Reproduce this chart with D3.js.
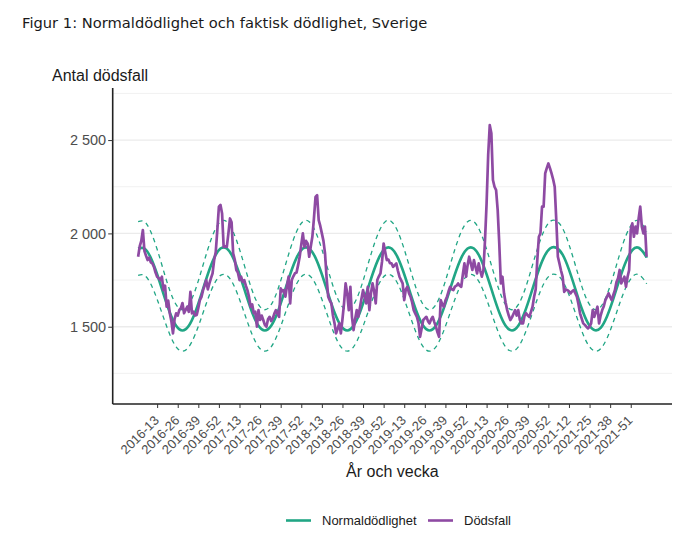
<!DOCTYPE html>
<html>
<head>
<meta charset="utf-8">
<script src="https://cdn.jsdelivr.net/npm/d3@7"></script>
<style>
  body { margin: 0; background: #fff; }
  text { font-family: "Liberation Sans", Arial, sans-serif; }
</style>
</head>
<body>
<div class="chart"></div>
<script>
const width = 700;
const height = 535;

// år och antal veckor i serien
const years = [2016, 2017, 2018, 2019, 2020, 2021, 2022];
const weeksInYear = [52, 52, 52, 52, 53, 52, 9];

const xTicks = ["2016-13", "2016-26", "2016-39", "2016-52", "2017-13", "2017-26", "2017-39", "2017-52",
    "2018-13", "2018-26", "2018-39", "2018-52", "2019-13", "2019-26", "2019-39", "2019-52",
    "2020-13", "2020-26", "2020-39", "2020-52", "2021-12", "2021-25", "2021-38", "2021-51"];
const yTicks = [1500, 2000, 2500];
const yMinor = [1250, 1750, 2250, 2750];

// dödsfall per vecka
const deaths = [
    1875, 1930, 1960, 2018, 1905, 1880, 1857, 1870, 1845, 1839, 1820, 1790, 1768, 1760, 1750, 1768,
    1696, 1720, 1607, 1640, 1572, 1530, 1464, 1540, 1572, 1560, 1589, 1600, 1627, 1572, 1590, 1607,
    1580, 1687, 1572, 1580, 1560, 1563, 1600, 1643, 1660, 1696, 1720, 1750, 1700, 1732, 1760, 1786,
    1857, 1900, 2018, 2143, 2152, 2107, 1928, 1930, 1928, 2000, 2080, 2060, 1893, 1860, 1804, 1790,
    1750, 1768, 1740, 1750, 1720, 1696, 1660, 1607, 1620, 1572, 1580, 1500, 1589, 1536, 1560, 1536,
    1510, 1500, 1540, 1553, 1530, 1545, 1570, 1589, 1570, 1553, 1705, 1690, 1696, 1661, 1720, 1768,
    1625, 1750, 1770, 1786, 1790, 1830, 1875, 1940, 2000, 1928, 1960, 1946, 1875, 1930, 1982, 2080,
    2196, 2205, 2071, 2040, 2000, 1960, 1893, 1760, 1661, 1640, 1625, 1560, 1518, 1464, 1490, 1518,
    1464, 1540, 1625, 1732, 1680, 1589, 1714, 1553, 1482, 1540, 1589, 1553, 1600, 1650, 1696, 1660,
    1625, 1714, 1589, 1680, 1732, 1690, 1625, 1750, 1770, 1786, 1850, 1946, 1900, 1857, 1860, 1840,
    1839, 1821, 1830, 1839, 1800, 1768, 1750, 1732, 1643, 1700, 1714, 1680, 1661, 1630, 1589, 1570,
    1553, 1520, 1446, 1490, 1536, 1545, 1553, 1530, 1518, 1540, 1553, 1525, 1500, 1470, 1446, 1643,
    1620, 1607, 1640, 1661, 1690, 1714, 1700, 1696, 1715, 1720, 1732, 1720, 1714, 1780, 1839, 1768,
    1830, 1875, 1840, 1804, 1857, 1820, 1786, 1839, 1800, 1768, 1804, 1964, 2161, 2420, 2580, 2536,
    2286, 2250, 2232, 2125, 1946, 1732, 1768, 1679, 1630, 1589, 1560, 1536, 1550, 1570, 1589, 1560,
    1589, 1536, 1518, 1518, 1560, 1572, 1560, 1553, 1580, 1607, 1661, 1700, 1857, 1982, 2000, 2143,
    2143, 2321, 2350, 2375, 2350, 2321, 2290, 2250, 2071, 1875, 1839, 1800, 1768, 1687, 1700, 1696,
    1690, 1679, 1690, 1696, 1680, 1661, 1620, 1572, 1545, 1518, 1510, 1500, 1491, 1500, 1518, 1589,
    1553, 1580, 1607, 1518, 1560, 1589, 1610, 1643, 1660, 1679, 1660, 1643, 1670, 1696, 1740, 1760,
    1804, 1732, 1750, 1768, 1714, 1768, 1804, 2018, 2054, 1982, 2036, 2000, 2080, 2143, 2036, 2000,
    2036, 1875
];

// normaldödlighet, var fjärde vecka (sista punkten = sista veckan)
const normal = [
    1919, 1919, 1869, 1781, 1676, 1576, 1505, 1480, 1505, 1576, 1676, 1781, 1869,
    1919, 1919, 1869, 1781, 1676, 1576, 1505, 1480, 1505, 1576, 1676, 1781, 1869,
    1919, 1919, 1869, 1781, 1676, 1576, 1505, 1480, 1505, 1576, 1676, 1781, 1869,
    1919, 1919, 1869, 1781, 1676, 1576, 1505, 1480, 1505, 1576, 1676, 1781, 1869,
    1919, 1919, 1869, 1781, 1676, 1576, 1505, 1480, 1505, 1576, 1676, 1781, 1869, 1919,
    1923, 1886, 1806, 1703, 1599, 1519, 1482, 1494, 1555, 1649, 1756, 1850, 1910,
    1923, 1886, 1869
];
const upper = [
    2063, 2063, 2009, 1915, 1802, 1694, 1618, 1591, 1618, 1694, 1802, 1915, 2009,
    2063, 2063, 2009, 1915, 1802, 1694, 1618, 1591, 1618, 1694, 1802, 1915, 2009,
    2063, 2063, 2009, 1915, 1802, 1694, 1618, 1591, 1618, 1694, 1802, 1915, 2009,
    2063, 2063, 2009, 1915, 1802, 1694, 1618, 1591, 1618, 1694, 1802, 1915, 2009,
    2063, 2063, 2009, 1915, 1802, 1694, 1618, 1591, 1618, 1694, 1802, 1915, 2009, 2063,
    2067, 2027, 1941, 1831, 1719, 1633, 1593, 1606, 1672, 1773, 1888, 1989, 2053,
    2067, 2027, 2009
];
const lower = [
    1775, 1775, 1729, 1647, 1550, 1458, 1392, 1369, 1392, 1458, 1550, 1647, 1729,
    1775, 1775, 1729, 1647, 1550, 1458, 1392, 1369, 1392, 1458, 1550, 1647, 1729,
    1775, 1775, 1729, 1647, 1550, 1458, 1392, 1369, 1392, 1458, 1550, 1647, 1729,
    1775, 1775, 1729, 1647, 1550, 1458, 1392, 1369, 1392, 1458, 1550, 1647, 1729,
    1775, 1775, 1729, 1647, 1550, 1458, 1392, 1369, 1392, 1458, 1550, 1647, 1729, 1775,
    1779, 1745, 1671, 1575, 1479, 1405, 1371, 1382, 1438, 1525, 1624, 1711, 1767,
    1779, 1745, 1729
];

const GREEN = "#21a685";
const PURPLE = "#8e4aa3";

// veckoetiketter
let weeks = [];
years.forEach((y, k) => {
    for (let w = 1; w <= weeksInYear[k]; w++) weeks.push(y + "-" + String(w).padStart(2, "0"));
});

const margin = {left: 112.7, right: 28, top: 88, bottom: 131};
const svg = d3.select(".chart").append("svg").attr("width", width).attr("height", height);

const x = d3.scalePoint().domain(weeks).range([margin.left, width - margin.right]).padding(16.05);
const y = d3.scaleLinear().domain([1086, 2779]).range([height - margin.bottom, margin.top]);

// rutnät
svg.append("g").selectAll("line").data(yMinor).enter().append("line")
    .attr("x1", margin.left).attr("x2", width - margin.right)
    .attr("y1", d => y(d)).attr("y2", d => y(d))
    .attr("stroke", "#ebebeb").attr("stroke-width", 0.7);
svg.append("g").selectAll("line").data(yTicks).enter().append("line")
    .attr("x1", margin.left).attr("x2", width - margin.right)
    .attr("y1", d => y(d)).attr("y2", d => y(d))
    .attr("stroke", "#ebebeb").attr("stroke-width", 1.4);

const sampleWeek = (k) => weeks[Math.min(k * 4, weeks.length - 1)];

const lineN = d3.line().x((d, k) => x(sampleWeek(k))).y(d => y(d)).curve(d3.curveNatural);
const lineD = d3.line().x((d, k) => x(weeks[k])).y(d => y(d));

svg.append("path").datum(upper).attr("d", lineN).attr("fill", "none")
    .attr("stroke", GREEN).attr("stroke-width", 1.3).attr("stroke-dasharray", "4.5,4");
svg.append("path").datum(lower).attr("d", lineN).attr("fill", "none")
    .attr("stroke", GREEN).attr("stroke-width", 1.3).attr("stroke-dasharray", "4.5,4");
svg.append("path").datum(normal).attr("d", lineN).attr("fill", "none")
    .attr("stroke", GREEN).attr("stroke-width", 2.6);
svg.append("path").datum(deaths).attr("d", lineD).attr("fill", "none")
    .attr("stroke", PURPLE).attr("stroke-width", 2.7).attr("stroke-linejoin", "round");

// axlar
const yAxis = svg.append("g").attr("transform", `translate(${margin.left},0)`)
    .call(d3.axisLeft(y).tickValues(yTicks).tickSize(4.5).tickPadding(2)
        .tickFormat(d => d3.format(",")(d).replace(",", " ")));
yAxis.select(".domain").attr("d", `M0,${margin.top}V${height - margin.bottom}`).attr("stroke", "#222").attr("stroke-width", 1.6);
yAxis.selectAll(".tick line").attr("stroke", "#333");
yAxis.selectAll("text").attr("font-size", 14.5).attr("fill", "#4d4d4d").attr("font-family", "Liberation Sans, Arial, sans-serif");

const xAxis = svg.append("g").attr("transform", `translate(0,${height - margin.bottom})`)
    .call(d3.axisBottom(x).tickValues(xTicks).tickSize(4).tickPadding(2));
xAxis.select(".domain").attr("d", `M${margin.left},0H${width - margin.right}`).attr("stroke", "#222").attr("stroke-width", 1.6);
xAxis.selectAll(".tick line").attr("stroke", "#333");
xAxis.selectAll("text").attr("font-size", 13).attr("fill", "#4d4d4d")
    .attr("font-family", "Liberation Sans, Arial, sans-serif")
    .attr("text-anchor", "end").attr("x", 0).attr("y", 0).attr("dy", "0.35em")
    .attr("transform", "translate(-1,14) rotate(-45)");

// texter
svg.append("text").attr("x", 22).attr("y", 28).text("Figur 1: Normaldödlighet och faktisk dödlighet, Sverige")
    .attr("font-size", 14.7).attr("fill", "#1a1a1a").style("font-family", "DejaVu Sans, Verdana, sans-serif");
svg.append("text").attr("x", 52).attr("y", 81).text("Antal dödsfall")
    .attr("font-size", 16).attr("fill", "#1a1a1a");
svg.append("text").attr("x", (margin.left + width - margin.right) / 2).attr("y", 477)
    .attr("text-anchor", "middle").text("År och vecka").attr("font-size", 16).attr("fill", "#1a1a1a");

// teckenförklaring
const legend = [["Normaldödlighet", GREEN, 286], ["Dödsfall", PURPLE, 428]];
const lg = svg.append("g").selectAll("g").data(legend).enter().append("g");
lg.append("line").attr("x1", d => d[2]).attr("x2", d => d[2] + 25).attr("y1", 520.5).attr("y2", 520.5)
    .attr("stroke", d => d[1]).attr("stroke-width", 2.6);
lg.append("text").attr("x", d => d[2] + 36).attr("y", 520.5).attr("dy", "0.35em")
    .text(d => d[0]).attr("font-size", 13).attr("fill", "#1a1a1a");
</script>
</body>
</html>
